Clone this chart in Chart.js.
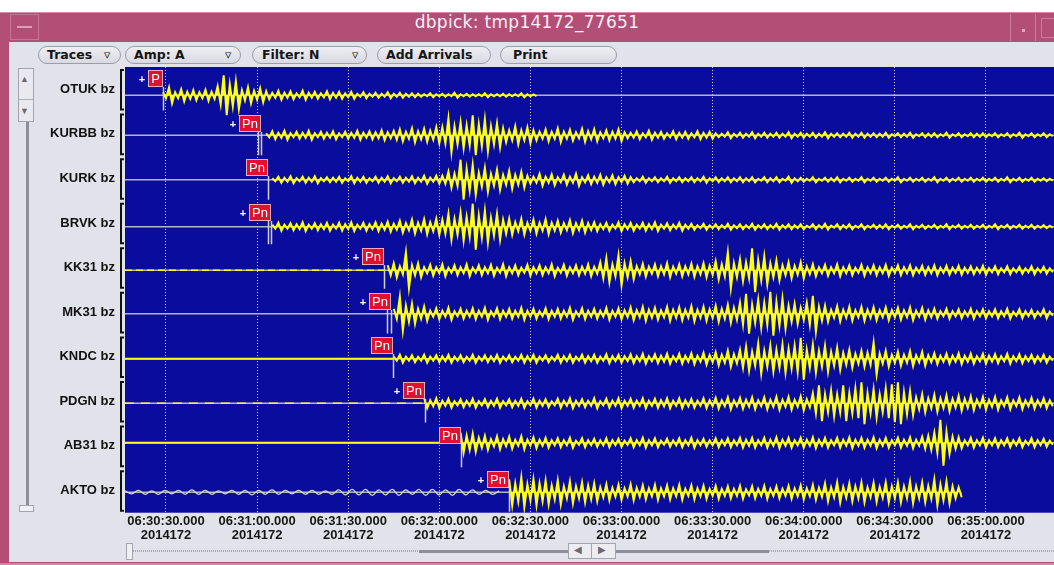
<!DOCTYPE html>
<html>
<head>
<meta charset="utf-8">
<title>dbpick: tmp14172_77651</title>
<script src="https://cdn.jsdelivr.net/npm/chart.js@4.4.1/dist/chart.umd.min.js"></script>
<style>
body { margin:0; width:1054px; height:565px; overflow:hidden; background:#fff; position:relative; font-family:"Liberation Sans", Arial, sans-serif; }
.abs { position:absolute; }
.btn { position:absolute; top:46px; height:16px; border:1px solid #9c9caa; border-radius:9px; background:linear-gradient(#eeeef3,#d9d9e2); font:bold 12.5px "DejaVu Sans", sans-serif; color:#151515; line-height:16px; box-sizing:content-box; }
.btn span { position:absolute; top:0; }
</style>
</head>
<body>
<!-- window frame -->
<div class="abs" style="left:0;top:12px;width:1054px;height:553px;background:#b34e77"></div>
<div class="abs" style="left:0;top:12px;width:1054px;height:1px;background:#d88ea9"></div>
<div class="abs" style="left:10px;top:14px;width:29px;height:26px;border:1px solid #c57592;box-sizing:border-box"></div>
<div class="abs" style="left:17px;top:26px;width:15px;height:2px;background:#dca0b6"></div>
<div class="abs" style="left:0;top:12px;width:1054px;height:30px;text-align:center;line-height:30px;color:#fbeef4;font:17px 'DejaVu Sans', sans-serif;letter-spacing:0.3px">dbpick: tmp14172_77651</div>
<div class="abs" style="left:1010px;top:14px;width:1px;height:27px;background:#c87e99"></div>
<div class="abs" style="left:1022px;top:29px;width:3px;height:3px;background:#e2a7bd"></div>
<div class="abs" style="left:1035px;top:14px;width:1px;height:27px;background:#c87e99"></div>
<div class="abs" style="left:1041px;top:18px;width:14px;height:20px;border:1px solid #c87e99;box-sizing:border-box"></div>

<!-- toolbar and side panels -->
<div class="abs" style="left:9px;top:42px;width:1045px;height:520px;background:#e2e2ea"></div>
<div class="btn" style="left:38px;width:81px"><span style="left:8px">Traces</span><span style="left:65px;font-weight:normal">▿</span></div>
<div class="btn" style="left:125px;width:114px"><span style="left:8px">Amp: A</span><span style="left:99px;font-weight:normal">▿</span></div>
<div class="btn" style="left:252px;width:113px"><span style="left:9px">Filter: N</span><span style="left:99px;font-weight:normal">▿</span></div>
<div class="btn" style="left:377px;width:112px"><span style="left:8px">Add Arrivals</span></div>
<div class="btn" style="left:500px;width:115px"><span style="left:12px">Print</span></div>

<!-- vertical scrollbar -->
<div class="abs" style="left:18px;top:68px;width:16px;height:54px;background:#e9e9ef;border:1px solid #a4a4ae;box-sizing:border-box"></div>
<div class="abs" style="left:20px;top:74px;font-size:9px;color:#6a6a74">▲</div>
<div class="abs" style="left:19px;top:99px;width:14px;height:1px;background:#b0b0ba"></div>
<div class="abs" style="left:20px;top:106px;font-size:9px;color:#6a6a74">▼</div>
<div class="abs" style="left:26px;top:122px;width:3px;height:384px;background:#8e8e98"></div>
<div class="abs" style="left:19px;top:505px;width:15px;height:7px;background:#f0f0f4;border:1px solid #a4a4ae;box-sizing:border-box"></div>

<!-- horizontal scrollbar -->
<div class="abs" style="left:133px;top:550px;width:921px;height:2px;background:repeating-linear-gradient(90deg,#a8a8b2 0 1px,transparent 1px 2px)"></div>
<div class="abs" style="left:419px;top:550px;width:350px;height:3px;background:#8e8e98"></div>
<div class="abs" style="left:126px;top:543px;width:7px;height:17px;background:#f0f0f4;border:1px solid #a4a4ae;box-sizing:border-box"></div>
<div class="abs" style="left:568px;top:543px;width:48px;height:16px;background:#ececf1;border:1px solid #a4a4ae;box-sizing:border-box"></div>
<div class="abs" style="left:591px;top:543px;width:1px;height:16px;background:#a4a4ae"></div>
<div class="abs" style="left:574px;top:544px;font-size:10px;color:#6a6a74">◀</div>
<div class="abs" style="left:598px;top:544px;font-size:10px;color:#6a6a74">▶</div>
<div class="abs" style="left:0;top:563px;width:1054px;height:2px;background:#c98aa3"></div>

<div class="abs" style="left:0;top:67px;width:1054px;height:498px"><canvas id="traceChart"></canvas></div>

<script>
// time is in seconds after 06:30:00.000, day 2014172
const stations = ['OTUK', 'KURBB', 'KURK', 'BRVK', 'KK31', 'MK31', 'KNDC', 'PDGN', 'AB31', 'AKTO'];
const channel = 'bz';
const dcOffset = [-6, -1.4, -1.3, -3.7, -2.7, -1.6, -2, -2, 3.1, -1.9];
const envStart = [29, 63, 65, 65, 103, 105, 105, 115, 127, 143];
const dataEnd = [null, null, null, null, null, null, null, null, null, 290.6];

const tickTimes = [30, 60, 90, 120, 150, 180, 210, 240, 270, 300];
const tickLabels = ['06:30:30.000', '06:31:00.000', '06:31:30.000', '06:32:00.000', '06:32:30.000',
    '06:33:00.000', '06:33:30.000', '06:34:00.000', '06:34:30.000', '06:35:00.000'];
const julianDay = '2014172';
const viewStart = 16.5;
const viewEnd = 322.4;

// arrivals
const pickTimes = [29.0, 61.3, 63.6, 64.6, 101.9, 104.0, 104.6, 115.3, 127.3, 142.9];
const pickPhases = ['P', 'Pn', 'Pn', 'Pn', 'Pn', 'Pn', 'Pn', 'Pn', 'Pn', 'Pn'];
const pickMarked = [true, true, false, true, true, true, false, true, false, true];
const pickSecond = [null, 60.2, null, 63.6, null, 102.8, null, null, null, null];

// swing half-amplitudes (counts), one every 2 s from envStart
const otukAmp = [3, 8, 3, 6, 3.5, 5, 3, 5.5, 3.5, 9, 20, 11, 14, 5, 8, 4.5, 7, 4,
    2.5, 4.5, 2.5, 4, 2, 4.5, 2.5, 3.5, 2, 4, 2.5, 3.5, 2, 3.5,
    1.5, 3, 1.5, 2.5, 1.5, 3, 1.5, 2.5, 1.5, 2, 1.5,
    1, 2, 1, 1.5, 1, 2.5, 1, 1.5, 1, 1, 2, 1, 1, 1.5, 1, 1, 2, 1, 0.8];
const kurbbAmp = [2, 4, 2.5, 4.5, 2, 3.5, 2.5, 4.5, 2, 3.5, 2.5, 4, 2, 3.5, 2.5, 4.5, 2.5, 4, 3, 5, 3,
    4.5, 6, 3.5, 7, 4, 6.5, 4.5, 8,
    8, 17, 9, 13, 10, 20, 11, 16, 9, 12, 7,
    5, 9, 5, 8, 5,
    3.5, 6, 3.5, 7, 3.5, 5.5, 3, 6.5, 4, 6, 3, 5, 3.5, 6, 3,
    2.5, 4, 2, 4.5, 2.5, 3.5, 2, 4, 2.5, 3.5, 2, 4, 2.5, 3.5, 2,
    1.5, 3, 1.5, 2.5, 1.5, 3, 1.5, 2.5, 1.5, 2.5, 1.5, 3, 1.5, 2.5, 1.5, 2.5, 1.5, 3, 1.5, 2,
    1.5, 2.5, 1.5, 2.5, 1.5, 2, 1.5, 2.5, 1, 2, 1.5, 2.5, 1, 2, 1.5, 2, 1, 2.5, 1, 2,
    1, 2, 1.5, 2, 1, 2, 1, 2, 1, 2.5, 1, 2, 1, 2, 1];
const kurkAmp = [1.5, 3, 2, 3.5, 1.5, 3, 2, 3.5, 1.5, 2.5, 2, 3, 1.5, 3.5, 2, 3, 1.5, 3, 2, 3.5, 1.5, 3, 2, 3.5, 2, 4, 2, 4,
    4, 8, 6,
    20, 11, 15,
    7, 12, 6, 10, 5, 9, 5, 8, 4,
    3, 6, 3, 5.5, 2.5, 5, 3, 6, 2.5, 4.5, 3, 5, 2.5, 4.5, 2.5, 4, 2.5,
    1.5, 3, 1.5, 2.5, 1.5, 3, 1.5, 2.5, 1.5, 2.5, 1.5, 3, 1.5, 2.5, 1.5, 2.5, 1.5, 2.5, 1.5, 2.5,
    1, 2.5, 1.5, 2.5, 1, 3, 1.5, 2, 1, 2.5, 1, 2, 1.5, 2.5, 1, 2, 1, 2.5, 1, 2,
    1, 2, 1, 2.5, 1, 2, 1, 2, 1, 2.5, 1, 2, 1, 2, 1, 2, 1, 2, 1, 2, 1, 2.5, 1, 2, 1, 2, 1, 1.5, 1];
const brvkAmp = [2, 4, 2, 3.5, 2.5, 4.5, 2, 3.5, 2.5, 4, 2, 4, 2.5, 4.5, 2, 4, 2.5, 4.5, 3, 5, 3,
    6, 3.5, 7, 4, 7.5, 4.5, 8,
    7, 13, 8, 14, 10, 23, 11, 16, 9, 13, 7,
    8, 4.5, 8, 4, 7, 4, 7.5, 4, 6, 3.5, 6.5, 3.5, 6, 3.5,
    4.5, 2.5, 4, 2, 4.5, 2.5, 4, 2, 4, 2.5, 4.5, 2, 3.5, 2, 4, 2,
    3, 1.5, 3, 1.5, 2.5, 1.5, 3, 1.5, 2.5, 1.5, 3, 1.5, 2.5, 1.5, 3, 1.5, 2.5, 1.5, 2.5, 1,
    2.5, 1.5, 3, 1, 2.5, 1.5, 2.5, 1, 2.5, 1, 2, 1.5, 2.5, 1, 2, 1, 2.5, 1, 2, 1,
    2, 1, 2.5, 1, 2, 1, 2, 1, 2, 1, 2.5, 1, 2, 1, 2, 1, 2, 1, 1.5, 1];
const kk31Amp = [5, 7, 4, 18, 5, 7,
    3, 5.5, 3, 6, 2.5, 5, 3, 6, 2.5, 5, 3, 5.5, 2.5, 6, 3, 5, 2.5, 5.5, 3, 5, 3, 6, 2.5, 5.5, 3, 5, 3.5, 6, 3.5,
    8, 12, 6, 15, 7, 9,
    4, 6.5, 3.5, 6, 4, 7, 3.5, 6, 4, 6.5, 4, 7, 4.5,
    9, 6, 18, 7, 11, 8, 22, 10, 14, 7, 10,
    5, 8, 4.5, 8, 4,
    6, 3, 5.5, 3, 6, 3, 5, 2.5, 5.5, 3, 5, 3, 5.5, 2.5, 5, 3, 5, 2.5, 4.5, 3, 5, 2.5, 4.5, 2.5, 4.5, 2.5, 4, 2.5, 4.5, 2,
    4, 2, 4, 2, 3.5, 2, 4, 2, 3.5, 2];
const mk31Amp = [5, 17, 8, 10, 5, 7,
    3, 5.5, 3, 6, 2.5, 5, 3, 5.5, 3, 6, 2.5, 5.5, 3, 5, 3, 6, 3, 5, 2.5, 5.5, 3, 5, 3, 6, 2.5, 5.5, 3, 5, 3, 6, 3, 5.5, 3.5,
    6.5, 3.5, 7, 4, 6, 3.5, 7, 4, 6.5, 4, 7.5, 4, 7, 4.5, 8,
    5, 9, 6, 11,
    20, 9, 14, 11, 22, 12, 15, 8,
    10, 6, 11, 18, 7,
    8, 4, 7.5, 4, 7, 3.5, 7, 4, 6.5, 3.5, 6.5, 3.5, 6, 3.5, 6.5, 3, 6, 3.5,
    5, 2.5, 5, 2.5, 4.5, 2.5, 5, 2.5, 4.5, 2.5, 4.5, 2.5, 5, 2, 4.5, 2.5, 4, 2, 4.5, 2];
const kndcAmp = [2, 4, 2, 3.5, 2, 4, 2, 3.5, 2.5, 4, 2, 3.5, 2, 4, 2, 3.5, 2.5, 4, 2, 3.5,
    2, 4, 2.5, 4, 2, 3.5, 2, 4, 2.5, 4, 2, 4, 2.5, 4, 2, 4.5, 2.5, 4, 2.5,
    4.5, 2.5, 5, 2.5, 4.5, 3, 5, 2.5, 5, 3, 5.5, 3, 6, 3.5,
    6.5, 4, 8, 4.5, 9,
    12, 7, 15, 8, 13, 9, 14, 10, 13, 21, 9, 14, 8, 13, 7, 11,
    6, 9, 5, 8, 6, 16, 5, 8,
    4, 7, 4, 7.5, 3.5, 7, 3.5,
    5.5, 3, 5, 3, 5.5, 3, 5, 2.5, 5, 3, 4.5, 2.5, 5, 2.5, 4.5, 2.5, 4, 2.5, 4, 2];
const pdgnAmp = [5, 3, 5,
    2.5, 4.5, 2, 4, 2.5, 4.5, 2, 4, 2.5, 4.5, 2, 4, 2.5, 4.5, 2, 4.5, 2.5, 4, 2, 4.5,
    2.5, 5, 2.5, 4, 2.5, 5, 2, 4.5, 2.5, 5, 2.5, 4.5, 2.5, 5, 2.5, 4.5, 3, 5, 2.5, 5, 3, 4.5, 2.5, 5, 3,
    5.5, 3, 6, 3, 5.5, 3.5, 6, 3, 6, 3.5, 6.5, 3.5, 6.5, 3.5, 7, 4,
    10, 18, 9, 13,
    9, 18, 10, 15, 21, 10, 14, 9, 15, 19, 21, 11, 12,
    6, 9, 5, 8.5, 5, 8, 4.5, 7.5, 4.5,
    7, 3.5, 6.5, 3.5, 6.5, 3, 6, 3, 6, 3, 5.5, 3, 5, 3];
const ab31Amp = [10, 7, 9, 5,
    7, 3.5, 6.5, 3.5, 6, 3, 6.5, 3, 5.5, 3,
    5, 2.5, 4.5, 2.5, 5, 2, 4.5, 2.5, 4, 2.5, 4.5, 2.5, 4, 2, 4.5, 2.5, 5, 2.5, 4.5, 2,
    4, 2.5, 4.5, 2.5, 5, 2.5, 4, 2.5, 4.5, 2.5, 4.5, 2.5, 5, 3, 5, 2.5, 5, 3, 5.5, 3,
    5, 2.5, 5, 3, 5.5, 3, 5, 2.5, 5, 3, 5.5, 3, 5, 3, 5.5, 3, 5, 2.5, 5, 3, 5.5, 3, 6,
    7, 10, 23, 11, 6,
    5.5, 2.5, 5, 2.5, 5, 2.5, 4.5, 2.5, 4.5, 2.5, 4.5, 2, 4.5, 2.5, 4, 2];
const aktoAmp = [13, 9, 15, 8, 13, 9, 12, 7,
    12, 6, 11, 6, 10, 7, 9,
    5, 8, 4.5, 7.5, 4, 8, 4.5, 7, 4, 7.5, 4, 7, 4, 7.5, 3.5, 7, 4, 6.5, 3.5,
    6.5, 3.5, 6, 3.5, 6.5, 3, 6, 3.5, 6.5, 3.5, 6, 3.5, 6.5, 4, 7, 4, 7.5, 4.5,
    9, 5, 10, 5.5, 9, 6, 10, 5, 9.5, 5.5, 10, 6,
    10, 6, 11, 6, 10, 6.5, 13, 8, 11, 6,
    5];
// AKTO long-period noise before Pn, crest / trough every 2.2 s from viewStart
const aktoMicroseism = [1.5, -1.5, 2, -2, 1.5, -2, 2, -1.5, 2, -2, 2.5, -2, 2, -2, 1.5, -1.5, 2, -2, 2, -2.5,
    2, -2, 2.5, -2, 2, -1.5, 2, -2, 2, -2, 1.5, -2, 2.5, -2.5, 3, -2.5, 3, -3, 2.5, -2.5,
    3, -3, 2.5, -2, 3, -3, 3, -2.5, 2.5, -3, 3, -2.5, 2.5, -2, 2, -2, 1.5];

const ampSeries = [otukAmp, kurbbAmp, kurkAmp, brvkAmp, kk31Amp, mk31Amp, kndcAmp, pdgnAmp, ab31Amp, aktoAmp];

const SAMPLE_STEP = 2;
const MICRO_STEP = 2.2;
const AMP_SCALE = 44.6;   // counts per trace slot
const YELLOW = '#ffff14';
const FONT = '"Liberation Sans", Arial, sans-serif';

// what the trace looks like before its arrival
const preNoise = [null, null, null, null, [7, 4], null, [], [9, 7], [], null];

function baseOf(i) {
    return 9.5 - i + dcOffset[i] / AMP_SCALE;
}

const datasets = [];
stations.forEach((st, i) => {
    const base = baseOf(i);
    // each swing: up at its sample time, back down half a step later
    const swing = [];
    ampSeries[i].forEach((a, k) => {
        const t = envStart[i] + k * SAMPLE_STEP;
        swing.push({x: t, y: base + a / AMP_SCALE});
        swing.push({x: t + SAMPLE_STEP / 2, y: base - a / AMP_SCALE});
    });
    datasets.push({
        label: st + ' ' + channel,
        data: swing,
        borderColor: YELLOW, backgroundColor: YELLOW, borderWidth: 2, pointRadius: 0,
        fill: {value: base}, order: 1
    });
    datasets.push({
        label: st + ' base',
        data: [{x: viewStart, y: base}, {x: dataEnd[i] || viewEnd, y: base}],
        borderColor: '#b4b4c2', borderWidth: 1.6, pointRadius: 0, fill: false, order: 3
    });
    if (preNoise[i]) {
        datasets.push({
            label: st + ' noise',
            data: [{x: viewStart, y: base}, {x: envStart[i], y: base}],
            borderColor: YELLOW, borderWidth: preNoise[i].length ? 1.6 : 2, borderDash: preNoise[i],
            pointRadius: 0, fill: false, order: 2
        });
    }
});
datasets.push({
    label: 'AKTO microseism',
    data: aktoMicroseism.map((v, k) => ({x: viewStart + k * MICRO_STEP, y: baseOf(9) + v / AMP_SCALE})),
    borderColor: '#d6d6e0', borderWidth: 1.3, pointRadius: 0, tension: 0.4, fill: false, order: 2
});

const plotBackground = {
    id: 'plotBackground',
    beforeDraw(chart) {
        const {ctx, chartArea: a} = chart;
        ctx.save();
        ctx.fillStyle = '#0a0c9e';
        ctx.fillRect(a.left, a.top, a.right - a.left, a.bottom - a.top);
        ctx.restore();
    }
};

// "[" bracket in front of each trace slot
const traceBrackets = {
    id: 'traceBrackets',
    afterDraw(chart) {
        const {ctx, scales: {y}, chartArea: a} = chart;
        ctx.save();
        ctx.strokeStyle = '#101010';
        ctx.lineWidth = 2;
        stations.forEach((st, i) => {
            const top = y.getPixelForValue(10 - i) + 3;
            const bottom = y.getPixelForValue(9 - i) - 2;
            ctx.beginPath();
            ctx.moveTo(a.left - 1, top);
            ctx.lineTo(a.left - 4, top);
            ctx.lineTo(a.left - 4, bottom);
            ctx.lineTo(a.left - 1, bottom);
            ctx.stroke();
        });
        ctx.restore();
    }
};

const pickMarkers = {
    id: 'pickMarkers',
    afterDatasetsDraw(chart) {
        const {ctx, scales: {x, y}, chartArea: a} = chart;
        ctx.save();
        ctx.beginPath();
        ctx.rect(a.left, a.top, a.right - a.left, a.bottom - a.top);
        ctx.clip();
        ctx.font = '13px ' + FONT;
        pickTimes.forEach((t, i) => {
            const px = Math.round(x.getPixelForValue(t));
            const slotTop = y.getPixelForValue(10 - i);
            const slotBottom = y.getPixelForValue(9 - i);
            const w = Math.round(ctx.measureText(pickPhases[i]).width) + 6;
            const h = 17;
            const bx = px - w;
            const by = Math.round(slotTop + 3);

            ctx.strokeStyle = '#cfcfda';
            ctx.lineWidth = 1.5;
            [t, pickSecond[i]].forEach(pt => {
                if (pt === null) return;
                const lx = Math.round(x.getPixelForValue(pt)) + 0.5;
                ctx.beginPath();
                ctx.moveTo(lx, by + h);
                ctx.lineTo(lx, slotBottom - 1);
                ctx.stroke();
            });

            ctx.fillStyle = '#e0112d';
            ctx.fillRect(bx, by, w, h);
            ctx.strokeStyle = '#f2a9bb';
            ctx.lineWidth = 1;
            ctx.strokeRect(bx + 0.5, by + 0.5, w - 1, h - 1);
            ctx.fillStyle = '#ffffff';
            ctx.textAlign = 'center';
            ctx.textBaseline = 'middle';
            ctx.fillText(pickPhases[i], bx + w / 2, by + h / 2 + 1);
            if (pickMarked[i]) {
                ctx.font = 'bold 11px ' + FONT;
                ctx.fillText('+', bx - 6, by + h / 2 + 1);
                ctx.font = '13px ' + FONT;
            }
        });
        ctx.restore();
    }
};

new Chart(document.getElementById('traceChart').getContext('2d'), {
    type: 'line',
    data: {datasets: datasets},
    options: {
        responsive: true,
        maintainAspectRatio: false,
        animation: false,
        layout: {padding: 0},
        plugins: {
            legend: {display: false},
            tooltip: {enabled: false},
            title: {display: false}
        },
        scales: {
            x: {
                type: 'linear',
                min: viewStart,
                max: viewEnd,
                afterBuildTicks: scale => { scale.ticks = tickTimes.map(v => ({value: v})); },
                afterFit: scale => {
                    scale.height = 52.3;
                    scale.paddingLeft = 0;
                    scale.paddingRight = 0;
                },
                ticks: {
                    autoSkip: false,
                    maxRotation: 0,
                    padding: 2,
                    color: '#161616',
                    font: {family: FONT, size: 13, weight: 'bold', lineHeight: 1.08},
                    callback: value => [tickLabels[tickTimes.indexOf(value)], julianDay]
                },
                grid: {color: 'rgba(228,228,242,0.9)', lineWidth: 1, drawTicks: false},
                border: {display: false, dash: [1, 2]}
            },
            y: {
                type: 'linear',
                min: 0,
                max: 10,
                afterBuildTicks: scale => { scale.ticks = stations.map((s, i) => ({value: 0.5 + i})); },
                afterFit: scale => {
                    scale.width = 125;
                    scale.paddingTop = 0;
                    scale.paddingBottom = 0;
                },
                ticks: {
                    autoSkip: false,
                    padding: 10,
                    color: '#111111',
                    font: {family: FONT, size: 13, weight: 'bold'},
                    callback: value => stations[Math.round(9.5 - value)] + ' ' + channel
                },
                grid: {display: false, drawTicks: false},
                border: {display: false}
            }
        }
    },
    plugins: [plotBackground, traceBrackets, pickMarkers]
});
</script>
</body>
</html>
